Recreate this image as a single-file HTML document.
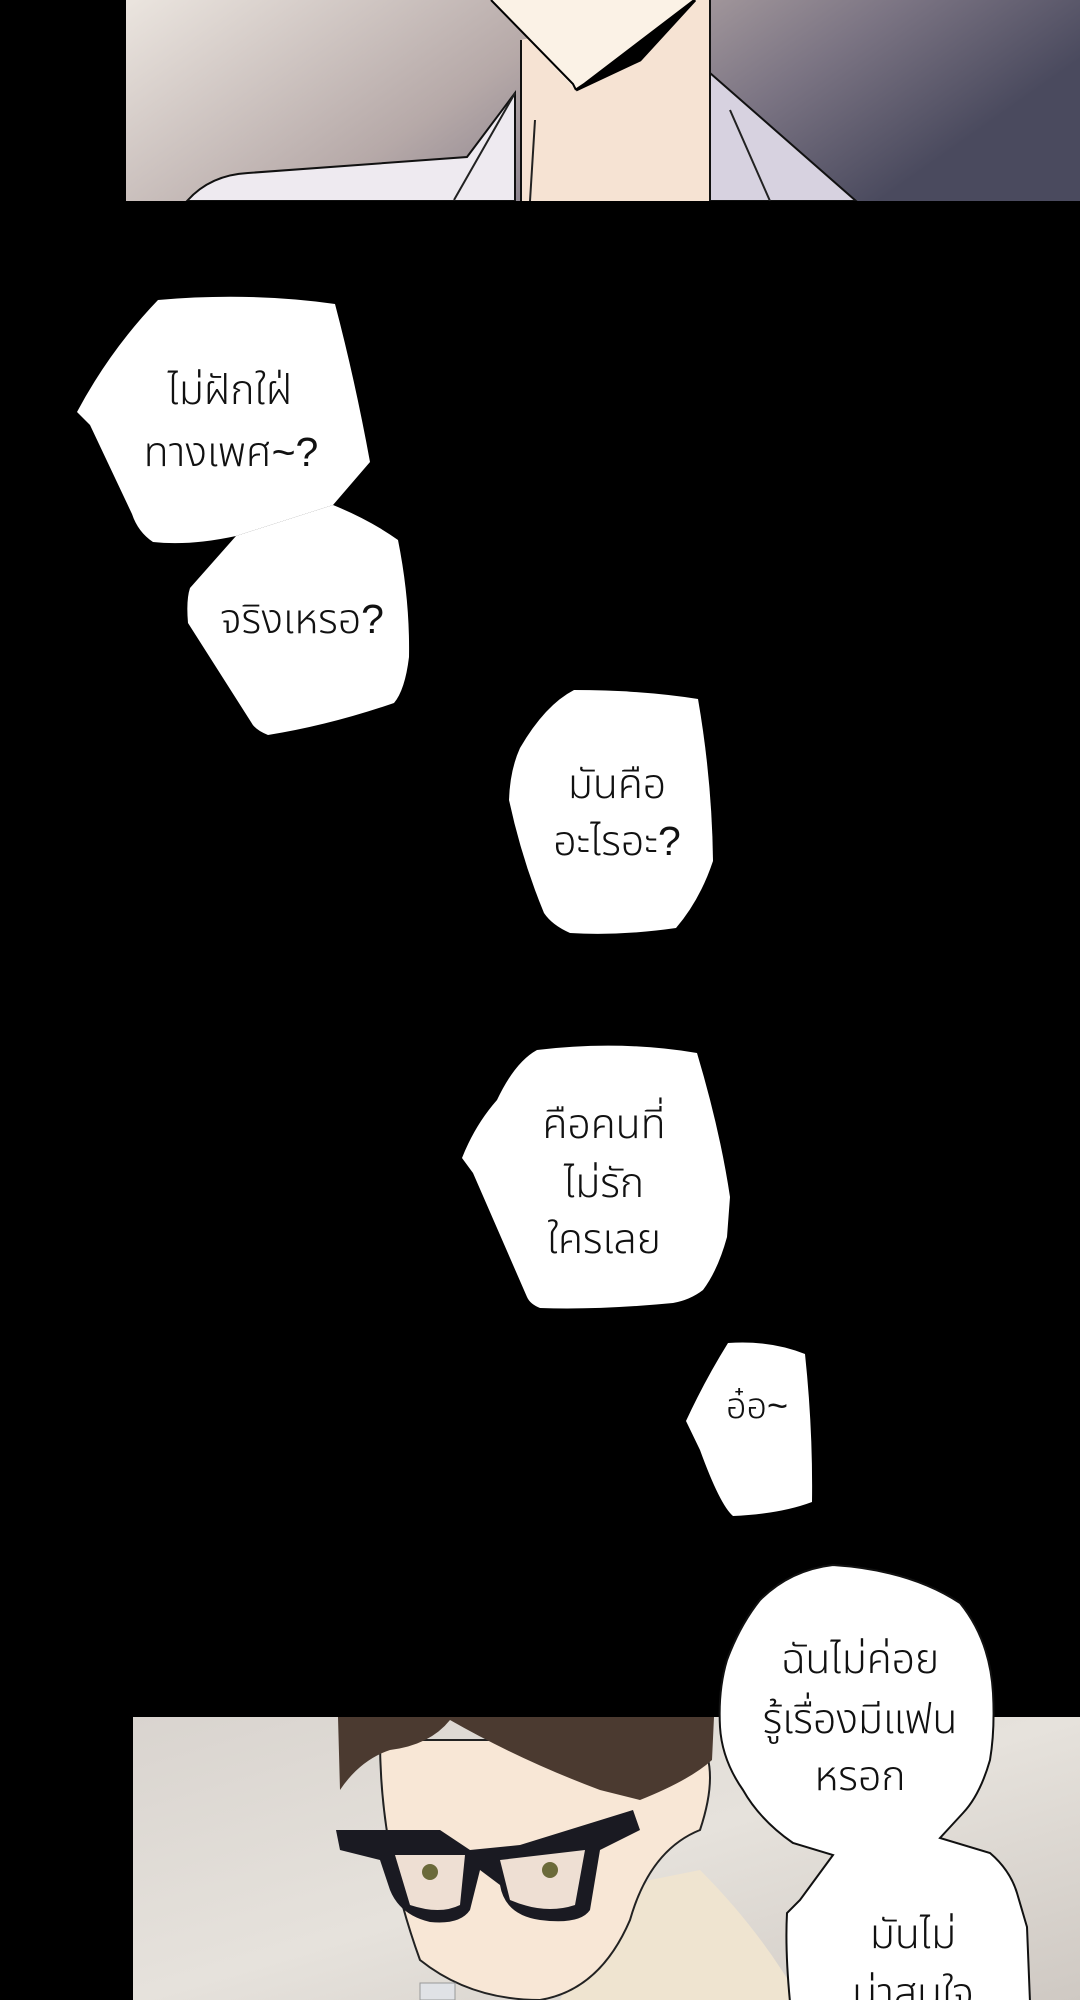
<!DOCTYPE html>
<html><head><meta charset="utf-8"><style>
html,body{margin:0;padding:0;background:#000;}
body{width:1080px;height:2000px;overflow:hidden;position:relative;}
svg{position:absolute;left:0;top:0;}
text{font-family:"Liberation Sans","Noto Sans Thai","DejaVu Sans",sans-serif;font-size:41px;fill:#111;text-anchor:middle;font-weight:300;}
</style></head><body>
<svg width="1080" height="2000" viewBox="0 0 1080 2000">
<defs>
<linearGradient id="tg" x1="0" y1="0" x2="1" y2="0.3">
<stop offset="0" stop-color="#ebe5df"/><stop offset="0.45" stop-color="#b6a9a8"/><stop offset="0.75" stop-color="#7b7483"/><stop offset="1" stop-color="#4a4a5e"/>
</linearGradient>
<linearGradient id="bg" x1="0" y1="0" x2="1" y2="1">
<stop offset="0" stop-color="#d9d4cf"/><stop offset="0.5" stop-color="#e6e2dc"/><stop offset="1" stop-color="#cfc9c3"/>
</linearGradient>
<clipPath id="tc"><rect x="126" y="0" width="954" height="201"/></clipPath>
<clipPath id="bc"><rect x="133" y="1717" width="947" height="283"/></clipPath>
</defs>
<rect x="0" y="0" width="1080" height="2000" fill="#000"/>
<g clip-path="url(#tc)">
<rect x="126" y="0" width="954" height="201" fill="url(#tg)"/>
<path d="M521 40 L521 201 L710 201 L710 0 L695 0 Z" fill="#f6e3d3"/>
<path d="M491 0 L576 90 L695 0 Z" fill="#fbf2e6"/>
<path d="M491 0 L573 84 L576 90" stroke="#000" stroke-width="2" fill="none"/>
<path d="M695 0 L640 60 L576 90 L585 84 Z" fill="#000" stroke="#000" stroke-width="3"/>
<path d="M521 40 L521 201 M710 0 L710 201" stroke="#111" stroke-width="2"/>
<path d="M187 201 Q210 175 248 173 L467 157 L515 93 L515 201 Z" fill="#eeeaf0" stroke="#111" stroke-width="2"/>
<path d="M710 73 L856 201 L710 201 Z" fill="#d7d2e0" stroke="#111" stroke-width="2"/>
<path d="M454 200 L515 93 M535 120 L530 201 M730 110 L770 201" stroke="#222" stroke-width="2" fill="none"/>
</g>
<path d="M158 300 Q250 292 335 304 Q355 380 370 462 L333 505 L236 536 Q190 546 153 542 Q138 532 132 514 L90 425 L77 412 Q110 350 158 300 Z" fill="#fff"/>
<path d="M236 536 L333 505 Q370 520 398 540 Q410 600 409 657 Q405 690 394 703 Q330 725 268 735 Q255 730 251 722 L188 623 Q186 600 190 588 Z" fill="#fff"/>
<text x="230" y="404">ไม่ฝักใฝ่</text>
<text x="231" y="466">ทางเพศ~?</text>
<text x="302" y="633">จริงเหรอ?</text>
<path d="M574 690 Q640 690 698 699 Q712 780 713 861 Q700 900 676 928 Q620 936 570 933 Q552 925 544 913 Q522 860 509 800 Q510 770 520 748 Q545 705 574 690 Z" fill="#fff"/>
<text x="617" y="798">มันคือ</text>
<text x="617" y="855">อะไรอะ?</text>
<path d="M537 1050 Q620 1040 697 1053 Q720 1130 730 1197 L727 1237 Q718 1270 703 1290 Q690 1300 673 1303 Q600 1310 540 1308 Q530 1304 527 1297 L473 1173 L462 1158 Q475 1125 497 1100 Q515 1062 537 1050 Z" fill="#fff"/>
<text x="604" y="1138">คือคนที่</text>
<text x="604" y="1197">ไม่รัก</text>
<text x="604" y="1253">ใครเลย</text>
<path d="M728 1343 Q770 1340 805 1354 Q813 1430 812 1502 Q780 1514 733 1516 Q720 1505 700 1450 L686 1421 Q705 1380 728 1343 Z" fill="#fff"/>
<text x="757" y="1418" style="font-size:36px">อ๋อ~</text>
<g clip-path="url(#bc)">
<rect x="133" y="1717" width="947" height="283" fill="url(#bg)"/>
<path d="M700 1870 Q760 1930 800 2000 L560 2000 Q600 1920 650 1880 Z" fill="#efe4d0"/>
<path d="M380 1740 Q380 1850 420 1960 Q470 2000 540 2000 Q600 1990 630 1920 Q650 1850 700 1830 Q720 1770 700 1740 Z" fill="#f8e7d6" stroke="#222" stroke-width="2"/>
<path d="M338 1717 L340 1790 Q360 1760 390 1750 Q430 1745 450 1720 Q520 1760 600 1790 L640 1800 Q690 1780 712 1760 L714 1717 Z" fill="#4b3a30"/>
<path d="M336 1830 L440 1830 L470 1850 L520 1845 L633 1810 L640 1830 L600 1850 L590 1910 Q580 1925 540 1920 Q505 1915 500 1885 L480 1870 L470 1910 Q460 1925 430 1922 Q400 1915 390 1890 L380 1860 L340 1850 Z" fill="#1a1a22"/>
<path d="M395 1855 L465 1855 L460 1905 Q440 1915 410 1905 Z M500 1860 L585 1850 L575 1905 Q545 1915 510 1900 Z" fill="#eedfd3"/>
<circle cx="430" cy="1872" r="8" fill="#6b6a3a"/><circle cx="550" cy="1870" r="8" fill="#6b6a3a"/>
<path d="M420 1983 L420 2000 L455 2000 L455 1983 Z" fill="#e0e2e6" stroke="#999" stroke-width="1"/>
</g>
<path d="M833 1565 Q910 1570 960 1603 Q990 1640 993 1693 Q995 1730 990 1760 Q980 1795 963 1813 L940 1838 L990 1853 Q1010 1870 1017 1893 L1027 1927 L1030 2002 L790 2002 Q785 1950 787 1913 L800 1900 L833 1855 L793 1843 Q760 1820 743 1790 Q722 1760 720 1727 Q718 1690 727 1660 Q740 1625 760 1600 Q790 1570 833 1565 Z" fill="#fff" stroke="#111" stroke-width="2"/>
<text x="860" y="1673">ฉันไม่ค่อย</text>
<text x="860" y="1733">รู้เรื่องมีแฟน</text>
<text x="860" y="1790">หรอก</text>
<text x="913" y="1948">มันไม่</text>
<text x="913" y="2007">น่าสนใจ</text>
</svg>
</body></html>
